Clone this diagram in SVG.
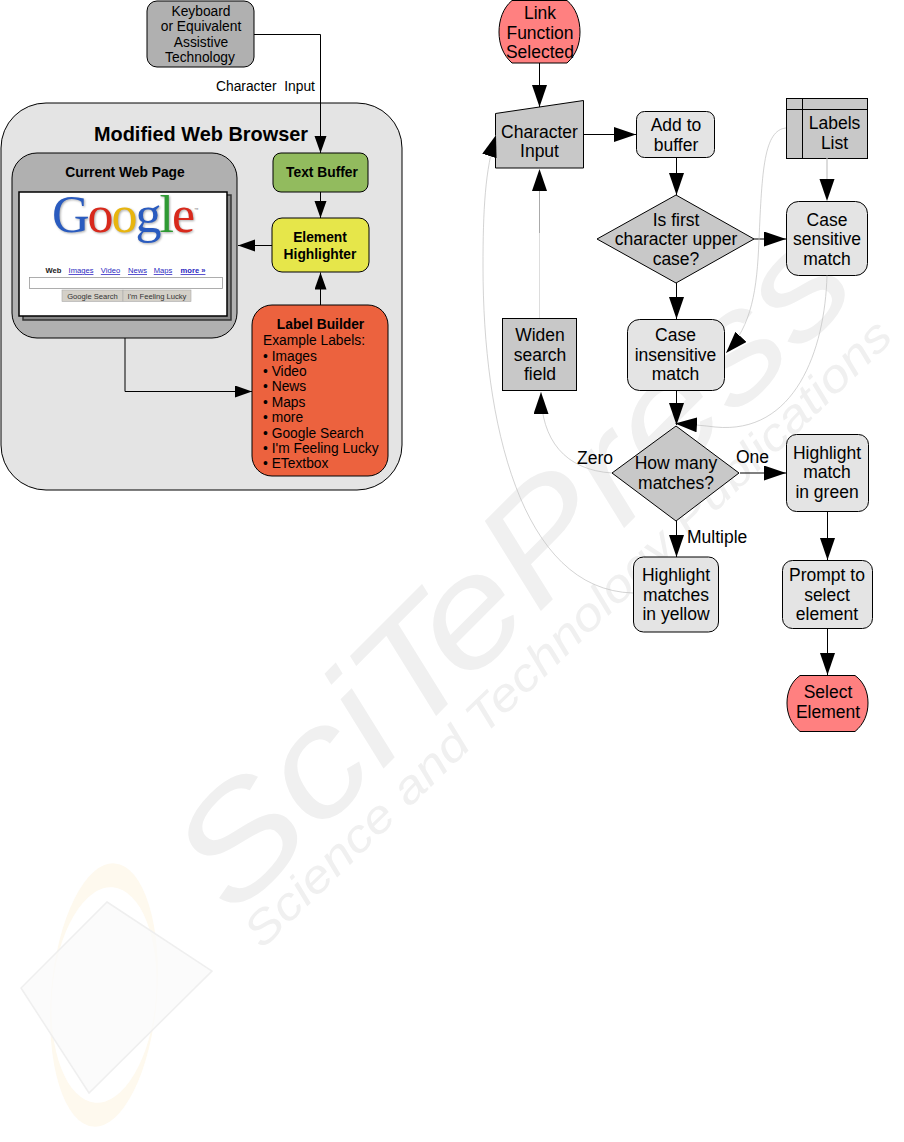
<svg xmlns="http://www.w3.org/2000/svg" width="904" height="1142" viewBox="0 0 904 1142">
<style>
text{font-family:"Liberation Sans",Arial,sans-serif;fill:#000}
.n{stroke:#000;stroke-width:1}
.t{font-size:17.5px;text-anchor:middle}
.s{font-size:13.8px}
.c{text-anchor:middle}
.b{font-weight:bold}
.lt{fill:#e4e4e4}
.md{fill:#c8c8c8}
.dk{fill:#b0b0b0}
.rd{fill:#ff8080}
.l{fill:none;stroke:#000;stroke-width:1}
.h{fill:none;stroke:#c0c0c0;stroke-width:.7}
.lk{font-size:7.6px;fill:#2a1fc0;text-decoration:underline;text-anchor:middle}
.bt{font-size:7.6px;fill:#333;text-anchor:middle}
.wm{font-family:"Liberation Sans",Arial,sans-serif;font-style:italic;fill:#f0f0f0}
</style>
<defs>
<marker id="a" markerUnits="userSpaceOnUse" markerWidth="23" markerHeight="16" refX="22" refY="7.500" orient="auto"><path d="M0,0L22,7.500L0,15z" fill="#000"/></marker>
<marker id="b" markerUnits="userSpaceOnUse" markerWidth="18" markerHeight="14" refX="17" refY="6" orient="auto"><path d="M0,0L17,6L0,12z" fill="#000"/></marker>
</defs>
<rect width="904" height="1142" fill="#fff"/>
<g id="watermark">
<ellipse cx="104" cy="995" rx="53" ry="132" transform="rotate(4.700 104 995)" fill="#fef9ee"/>
<ellipse cx="104" cy="995" rx="52" ry="108" transform="rotate(4.700 104 995)" fill="#fff"/>
<path d="M107,902L212,971L89,1093L21,988Z" fill="#fafafa" fill-opacity=".75" stroke="#efefef" stroke-width="1.500"/>
<text class="wm" font-size="150" transform="translate(233,919) rotate(-45) scale(1.200,1)">SciT<tspan dx="-25">e</tspan>Press</text>
<text class="wm" font-size="46" textLength="880" lengthAdjust="spacingAndGlyphs" transform="translate(262,950) rotate(-44)">Science and Technology Publications</text>
</g>
<g id="browser"><rect class="n lt" x="1" y="103" width="401" height="387" rx="45"/>
<text class="b c" font-size="19.9" x="201" y="141">Modified Web Browser</text></g>
<g id="keyboard"><rect class="n dk" x="147" y="1" width="107" height="66" rx="10"/>
<text class="s c" x="201"><tspan x="201" y="16">Keyboard</tspan><tspan x="201" y="31">or Equivalent</tspan><tspan x="201" y="47">Assistive</tspan><tspan x="200" y="62">Technology</tspan></text></g>
<g id="webpage"><rect class="n dk" x="12" y="153" width="225" height="185" rx="25"/>
<text class="s b c" x="125" y="177">Current Web Page</text>
<rect x="23" y="195" width="208" height="125" fill="#888" stroke="#333" stroke-width="1.500"/>
<rect x="19" y="192" width="208" height="124" fill="#fff" stroke="#000" stroke-width="1.500"/>
<text font-size="52" letter-spacing="-2" x="52" y="232" style="font-family:'Liberation Serif',serif;filter:drop-shadow(1px 1px 1px #aaa)"><tspan fill="#2a5bbf">G</tspan><tspan fill="#d8291c">o</tspan><tspan fill="#e8b50e">o</tspan><tspan fill="#2a5bbf">g</tspan><tspan fill="#2f9a34">l</tspan><tspan fill="#d8291c">e</tspan></text>
<text font-size="4.500" x="194" y="211" style="fill:#777">™</text>
<text class="b c" font-size="7.6" x="53.500" y="273" style="fill:#222">Web</text>
<text class="lk" x="81" y="273">Images</text>
<text class="lk" x="110.500" y="273">Video</text>
<text class="lk" x="137.500" y="273">News</text>
<text class="lk" x="163" y="273">Maps</text>
<text class="lk b" x="193" y="273">more »</text>
<rect x="29.500" y="277.500" width="193" height="11" fill="#fff" stroke="#999" stroke-width=".8"/>
<rect x="62" y="290" width="61" height="11.500" fill="#d4d0c8" stroke="#aaa" stroke-width=".6"/>
<rect x="123" y="290" width="68" height="11.500" fill="#d4d0c8" stroke="#aaa" stroke-width=".6"/>
<text class="bt" x="92.500" y="299">Google Search</text>
<text class="bt" x="157" y="299">I'm Feeling Lucky</text></g>
<g id="textbuffer"><rect class="n" fill="#92bb5e" x="273" y="153" width="95" height="39" rx="8"/>
<text class="s b c" x="322" y="177">Text Buffer</text></g>
<g id="highlighter"><rect class="n" fill="#e6e64a" x="272" y="218" width="97" height="54" rx="10"/>
<text class="s b c"><tspan x="320" y="242">Element</tspan><tspan x="320" y="259">Highlighter</tspan></text></g>
<g id="labelbuilder"><rect class="n" fill="#ec623e" x="252" y="305" width="136" height="171" rx="20"/>
<text class="s b c" x="320.500" y="329">Label Builder</text>
<text class="s"><tspan x="263" y="345">Example Labels:</tspan><tspan x="263" y="360.500">• Images</tspan><tspan x="263" y="376">• Video</tspan><tspan x="263" y="391">• News</tspan><tspan x="263" y="407">• Maps</tspan><tspan x="263" y="422">• more</tspan><tspan x="263" y="437.500">• Google Search</tspan><tspan x="263" y="453">• I'm Feeling Lucky</tspan><tspan x="263" y="468">• ETextbox</tspan></text></g>
<g id="link-function"><path class="n rd" d="M512,.5H567C576,8 580,20 580,32C580,44 576,55 567,63H512C503,55 499,44 499,32C499,20 503,8 512,.5Z"/>
<text class="t"><tspan x="540" y="19">Link</tspan><tspan x="540" y="39">Function</tspan><tspan x="540" y="58">Selected</tspan></text></g>
<g id="character-input"><path class="n md" d="M495.500,113.500L583.500,100.500V168H495.500Z"/>
<text class="t"><tspan x="539.500" y="138">Character</tspan><tspan x="539.500" y="157">Input</tspan></text></g>
<g id="add-buffer"><rect class="n lt" x="636.500" y="111.500" width="78" height="46" rx="8"/>
<text class="t"><tspan x="676" y="131">Add to</tspan><tspan x="676" y="151">buffer</tspan></text></g>
<g id="labels-list"><rect class="n md" x="786.500" y="98.500" width="81" height="60"/><path class="l" d="M786.500,109.500H867.500M802.500,98.500V158.500"/>
<text class="t"><tspan x="834.500" y="129">Labels</tspan><tspan x="834.500" y="149">List</tspan></text></g>
<g id="upper-decision"><path class="n md" d="M597,239L676,195L754,239L676,283Z"/>
<text class="t"><tspan x="676" y="226">Is first</tspan><tspan x="676" y="245">character upper</tspan><tspan x="676" y="265">case?</tspan></text></g>
<g id="case-sensitive"><rect class="n lt" x="786.500" y="201.500" width="81" height="74" rx="12"/>
<text class="t"><tspan x="827" y="226">Case</tspan><tspan x="827" y="245">sensitive</tspan><tspan x="827" y="265">match</tspan></text></g>
<g id="case-insensitive"><rect class="n lt" x="627.500" y="319.500" width="97" height="71" rx="12"/>
<text class="t"><tspan x="675.500" y="341">Case</tspan><tspan x="675.500" y="361">insensitive</tspan><tspan x="675.500" y="380">match</tspan></text></g>
<g id="widen"><rect class="n md" x="502.500" y="318.500" width="74" height="72"/>
<text class="t"><tspan x="540" y="341">Widen</tspan><tspan x="540" y="361">search</tspan><tspan x="540" y="380">field</tspan></text></g>
<g id="matches-decision"><path class="n md" d="M612,473L676,426L739,473L676,521Z"/>
<text class="t"><tspan x="676" y="469">How many</tspan><tspan x="676" y="489">matches?</tspan></text></g>
<g id="highlight-green"><rect class="n lt" x="786.500" y="434.500" width="82" height="77" rx="10"/>
<text class="t"><tspan x="827" y="459">Highlight</tspan><tspan x="827" y="478">match</tspan><tspan x="827" y="498">in green</tspan></text></g>
<g id="highlight-yellow"><rect class="n lt" x="633.500" y="557" width="85" height="75" rx="10"/>
<text class="t"><tspan x="676" y="581">Highlight</tspan><tspan x="676" y="601">matches</tspan><tspan x="676" y="620">in yellow</tspan></text></g>
<g id="prompt"><rect class="n lt" x="782.500" y="560.500" width="90" height="68" rx="10"/>
<text class="t"><tspan x="827" y="581">Prompt to</tspan><tspan x="827" y="601">select</tspan><tspan x="827" y="620">element</tspan></text></g>
<g id="select-element"><path class="n rd" d="M800,675.500H855C864,682 868,692 868,703C868,714 864,724 855,731.500H800C791,724 787,714 787,703C787,692 791,682 800,675.500Z"/>
<text class="t"><tspan x="828" y="698">Select</tspan><tspan x="828" y="718">Element</tspan></text></g>
<g id="connectors">
<path class="l" d="M254,34.500H320.500V153" marker-end="url(#b)"/>
<path class="l" d="M320.500,192V218" marker-end="url(#b)"/>
<path class="l" d="M272,245.500H238" marker-end="url(#b)"/>
<path class="l" d="M320.500,305V272.500" marker-end="url(#b)"/>
<path class="l" d="M125,338V391.500H252" marker-end="url(#b)"/>
<path class="l" d="M539.500,63V107" marker-end="url(#a)"/>
<path class="l" d="M584,134.500H636" marker-end="url(#a)"/>
<path class="l" d="M676.500,157V195" marker-end="url(#a)"/>
<path class="l" d="M754,239H786" marker-end="url(#a)"/>
<path fill="none" stroke="#dcdcdc" stroke-width="2" d="M827,158.500V185"/>
<path fill="none" d="M827,180V201" marker-end="url(#a)"/>
<path class="l" d="M676.500,283V319" marker-end="url(#a)"/>
<path class="l" d="M676.500,390.500V425" marker-end="url(#a)"/>
<path class="h" d="M827,275.500C825,350 795,435 715,427Q700,425 675,423.500" marker-end="url(#a)"/>
<path class="h" d="M786,128C764,130 762,170 759,240C757,290 752,325 726,353" marker-end="url(#a)"/>
<path class="l" d="M676.500,521V557" marker-end="url(#a)"/>
<path class="h" d="M612,473C565,470 541,440 541,392" marker-end="url(#a)"/>
<path fill="none" stroke="#aaa" stroke-width="1" d="M539.500,233V190"/>
<path fill="none" stroke="#ddd" stroke-width="1" d="M539.500,318V233"/>
<path fill="none" d="M539.500,190V169" marker-end="url(#a)"/>
<path class="h" d="M633,593C520,590 483,420 483,267C483,210 485,170 496,135" marker-end="url(#a)"/>
<path class="l" d="M740,473H786" marker-end="url(#a)"/>
<path class="l" d="M827.500,511V560" marker-end="url(#a)"/>
<path class="l" d="M827.500,628V675" marker-end="url(#a)"/>
</g>
<g id="labels">
<text class="s" x="216" y="91" xml:space="preserve">Character  Input</text>
<text class="t" x="595" y="464">Zero</text>
<text class="t" x="752.500" y="463">One</text>
<text class="t" x="687" y="543" style="text-anchor:start">Multiple</text>
</g>
</svg>
